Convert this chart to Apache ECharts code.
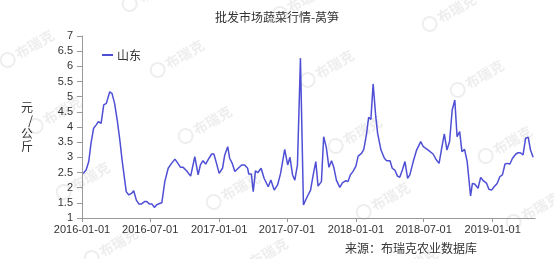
<!DOCTYPE html>
<html>
<head>
<meta charset="utf-8">
<script src="https://cdn.jsdelivr.net/npm/echarts@6/dist/echarts.min.js"></script>
<style>html,body{margin:0;padding:0;background:#fff;}#c{width:554px;height:259px;}</style>
</head>
<body>
<div id="c"></div>
<script>
const titleText = '批发市场蔬菜行情-莴笋';
const seriesName = '山东';
const yAxisName = '元/公斤';
const sourceText = '来源：布瑞克农业数据库';
const xTickLabels = ['2016-01-01','2016-07-01','2017-01-01','2017-07-01','2018-01-01','2018-07-01','2019-01-01'];
const dates = [
'2016-01-04','2016-01-12','2016-01-19','2016-01-25','2016-02-01','2016-02-08','2016-02-14','2016-02-21','2016-02-28','2016-03-06',
'2016-03-15','2016-03-21','2016-03-28','2016-04-04','2016-04-11','2016-04-17','2016-04-24','2016-04-28','2016-05-05','2016-05-12',
'2016-05-18','2016-05-25','2016-06-01','2016-06-07','2016-06-16','2016-06-22','2016-06-29','2016-07-06','2016-07-12','2016-07-18',
'2016-07-24','2016-08-01','2016-08-09','2016-08-18','2016-08-27','2016-09-05','2016-09-13','2016-09-20','2016-09-27','2016-10-06',
'2016-10-17','2016-10-28','2016-11-06','2016-11-12','2016-11-19','2016-11-26','2016-12-05','2016-12-12','2016-12-18','2016-12-25',
'2017-01-01','2017-01-10','2017-01-16','2017-01-24','2017-01-29','2017-02-05','2017-02-12','2017-02-21','2017-03-02','2017-03-10',
'2017-03-18','2017-03-21','2017-03-28','2017-04-02','2017-04-08','2017-04-14','2017-04-23','2017-05-01','2017-05-12','2017-05-19',
'2017-05-28','2017-06-06','2017-06-14','2017-06-25','2017-07-03','2017-07-09','2017-07-16','2017-07-22','2017-07-29','2017-08-06',
'2017-08-14','2017-08-22','2017-09-02','2017-09-09','2017-09-16','2017-09-22','2017-10-01','2017-10-07','2017-10-14','2017-10-21',
'2017-10-28','2017-11-03','2017-11-10','2017-11-19','2017-11-26','2017-12-05','2017-12-11','2017-12-17','2017-12-24','2018-01-01',
'2018-01-07','2018-01-16','2018-01-22','2018-01-29','2018-02-04','2018-02-10','2018-02-16','2018-02-23','2018-02-28','2018-03-09',
'2018-03-18','2018-03-24','2018-04-02','2018-04-08','2018-04-15','2018-04-22','2018-04-28','2018-05-05','2018-05-12','2018-05-19',
'2018-05-25','2018-06-03','2018-06-12','2018-06-23','2018-06-30','2018-07-13','2018-07-26','2018-08-04','2018-08-11','2018-08-18',
'2018-08-25','2018-09-01','2018-09-08','2018-09-15','2018-09-22','2018-09-28','2018-10-05','2018-10-11','2018-10-18','2018-10-25',
'2018-10-29','2018-11-03','2018-11-08','2018-11-14','2018-11-23','2018-11-30','2018-12-07','2018-12-16','2018-12-22','2018-12-29',
'2019-01-05','2019-01-13','2019-01-20','2019-01-27','2019-02-03','2019-02-09','2019-02-16','2019-02-23','2019-03-04','2019-03-10',
'2019-03-16','2019-03-23','2019-03-30','2019-04-06','2019-04-12','2019-04-19'
];
const values = [
2.47,2.58,2.86,3.46,3.96,4.07,4.18,4.12,4.73,4.78,
5.16,5.11,4.78,4.23,3.57,2.91,2.25,1.87,1.76,1.81,
1.90,1.59,1.46,1.46,1.54,1.54,1.46,1.46,1.35,1.43,
1.47,1.50,2.20,2.64,2.80,2.94,2.80,2.67,2.67,2.56,
2.38,3.02,2.42,2.75,2.89,2.78,2.97,3.11,3.11,2.80,
2.47,2.64,3.08,3.35,2.97,2.80,2.53,2.64,2.75,2.75,
2.64,2.45,2.45,1.87,2.56,2.49,2.64,2.31,2.03,2.25,
1.92,2.09,2.47,3.26,2.75,3.00,2.42,2.25,2.75,6.27,
1.43,1.65,1.92,2.42,2.86,2.05,2.20,3.68,3.33,2.67,
2.89,2.67,2.25,2.01,2.16,2.23,2.20,2.42,2.53,2.71,
3.04,3.13,3.26,3.74,4.32,4.25,5.42,4.34,3.79,3.24,
2.97,2.89,2.89,2.64,2.58,2.38,2.34,2.58,2.86,2.31,
2.42,2.86,3.24,3.52,3.35,3.24,3.11,2.91,2.80,3.30,
3.77,3.24,3.52,4.56,4.89,3.68,3.85,3.19,3.26,2.86,
2.36,1.73,2.14,2.12,1.98,2.34,2.23,2.14,1.95,1.92,
2.03,2.14,2.36,2.42,2.78,2.80,2.78,2.97,3.11,3.15,
3.15,3.08,3.63,3.66,3.24,3.00
];

const ts = s => { const p = s.split('-'); return Date.UTC(+p[0], +p[1]-1, +p[2]); };
const pad = n => (n < 10 ? '0' : '') + n;
const fmt = v => { const d = new Date(v); return d.getUTCFullYear() + '-' + pad(d.getUTCMonth()+1) + '-' + pad(d.getUTCDate()); };

const chart = echarts.init(document.getElementById('c'), null, {renderer: 'canvas'});

// faint watermarks
const wm = [];
for (let i = -1; i <= 4; i++) {
  for (let j = -1; j <= 4; j++) {
    const x = 25 + 150 * i + 28 * j, y = 50 + 10 * i + 66 * j;
    if (x < -40 || x > 600 || y < -30 || y > 290) continue;
    wm.push({
      type: 'group', x: x, y: y, rotation: Math.PI / 6, silent: true, z: -10,
      children: [
        {type: 'circle', shape: {cx: -20, cy: 0, r: 7}, style: {fill: 'none', stroke: '#eeeeee', lineWidth: 2}},
        {type: 'text', style: {x: -10, y: 0, text: '布瑞克', fill: '#eeeeee', font: 'bold 14px "Noto Sans CJK SC"', verticalAlign: 'middle', align: 'left'}}
      ]
    });
  }
}

chart.setOption({
  animation: false,
  backgroundColor: '#fff',
  title: {
    text: titleText, left: 'center', top: 6,
    textStyle: {fontSize: 12, fontWeight: 'normal', color: '#333', fontFamily: '"Noto Sans CJK SC"'}
  },
  legend: {
    data: [seriesName], left: 97, top: 44, icon: 'rect', itemWidth: 11, itemHeight: 2, itemGap: 4,
    textStyle: {fontSize: 12, color: '#333', fontFamily: '"Noto Sans CJK SC"', padding: [0, 0, 0, -1]}
  },
  graphic: wm.concat([
    {type: 'text', left: 345, top: 242, style: {text: sourceText, fill: '#333', font: '12px "Noto Sans CJK SC"'}}
  ]),
  grid: {left: 82, right: 19, top: 36, bottom: 41, containLabel: false},
  xAxis: {
    type: 'value',
    min: ts('2016-01-01'), max: ts('2019-04-24'),
    splitLine: {show: false},
    axisLine: {lineStyle: {color: '#999', width: 1}},
    axisTick: {show: true, length: 4, lineStyle: {color: '#999'}, customValues: xTickLabels.map(ts)},
    axisLabel: {
      customValues: xTickLabels.map(ts), formatter: v => fmt(v),
      fontSize: 11, color: '#333', margin: 6, fontFamily: '"Liberation Sans"'
    }
  },
  yAxis: {
    type: 'value', min: 1, max: 7, interval: 0.5,
    name: yAxisName.split('').join('\n'), nameLocation: 'middle', nameGap: 49, nameRotate: 0,
    nameTextStyle: {fontSize: 12, color: '#333', lineHeight: 13, fontFamily: '"Noto Sans CJK SC"'},
    splitLine: {show: false},
    axisLine: {show: true, lineStyle: {color: '#999', width: 1}},
    axisTick: {show: true, length: 5, lineStyle: {color: '#999'}},
    axisLabel: {fontSize: 11, color: '#333', margin: 9, fontFamily: '"Liberation Sans"'}
  },
  series: [{
    name: seriesName, type: 'line', showSymbol: false, symbol: 'none',
    data: dates.map((d, i) => [ts(d), values[i]]),
    lineStyle: {color: '#4f4fd6', width: 1.5},
    itemStyle: {color: '#4f4fd6'}
  }]
});
</script>
</body>
</html>
